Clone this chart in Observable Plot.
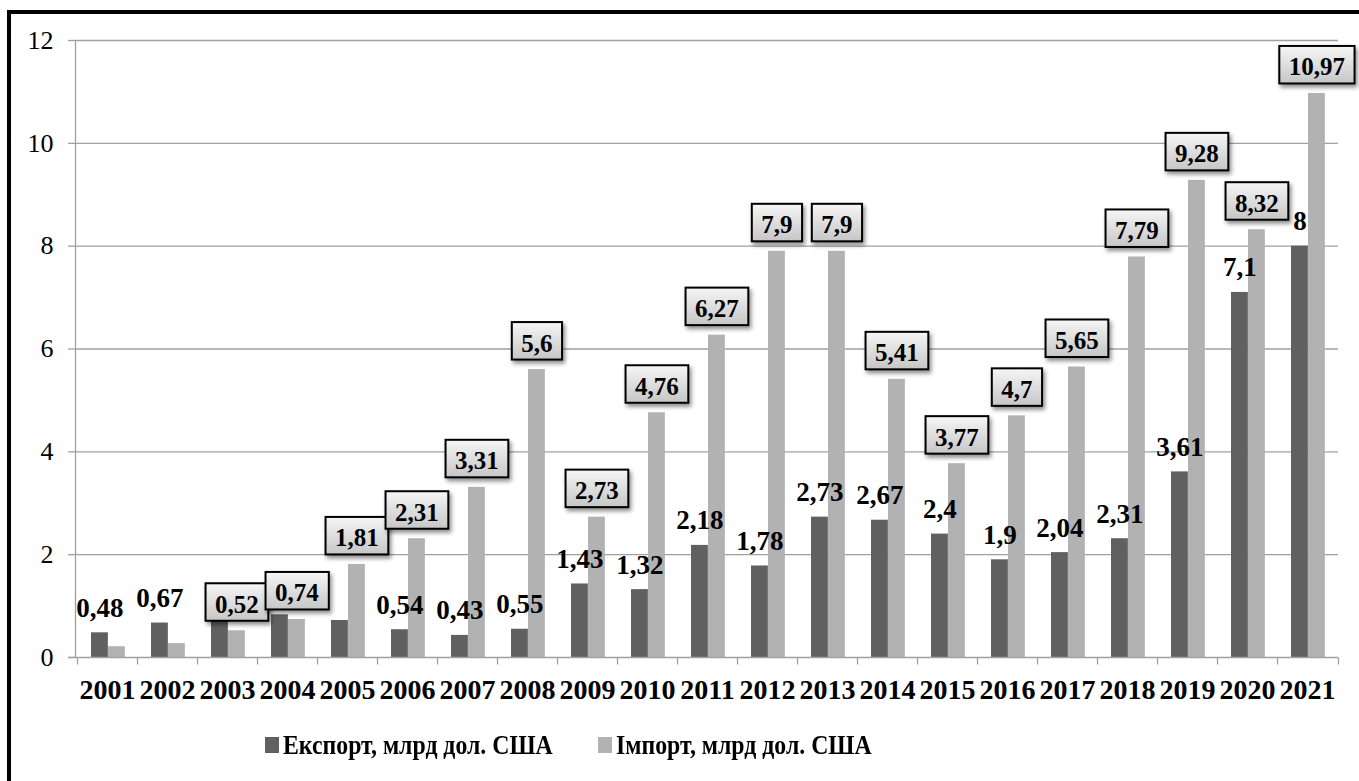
<!DOCTYPE html>
<html><head><meta charset="utf-8">
<script src="https://cdn.jsdelivr.net/npm/d3@7"></script>
<script src="https://cdn.jsdelivr.net/npm/@observablehq/plot@0.6"></script>
<style>
html,body{margin:0;padding:0;background:#fff;overflow:hidden;width:1359px;height:781px}
#frame{position:absolute;left:7px;top:10px;width:1400px;height:800px;border-left:4px solid #000;border-top:4px solid #000;box-sizing:border-box}
#chart{position:absolute;left:0;top:0}
#legend{position:absolute;left:0;top:729px;width:1359px;height:32px;font-family:"Liberation Serif","Times New Roman",serif;font-weight:bold;font-size:28px;line-height:32px;color:#000;white-space:nowrap}
.item{position:absolute;top:0;display:flex;align-items:center;height:32px}
.sw{display:inline-block;width:14px;height:16px;margin-right:4px}
.tx{display:inline-block;transform:scaleX(0.85);transform-origin:0 50%}
</style></head><body>
<div id="frame"></div>
<div id="chart"></div>
<div id="legend"></div>
<script>
// ---- data ----
const years = [2001,2002,2003,2004,2005,2006,2007,2008,2009,2010,2011,2012,2013,2014,2015,2016,2017,2018,2019,2020,2021];
const exportValues = [0.48,0.67,0.78,0.83,0.72,0.54,0.43,0.55,1.43,1.32,2.18,1.78,2.73,2.67,2.4,1.9,2.04,2.31,3.61,7.1,8];
const importValues = [0.21,0.27,0.52,0.74,1.81,2.31,3.31,5.6,2.73,4.76,6.27,7.9,7.9,5.41,3.77,4.7,5.65,7.79,9.28,8.32,10.97];
const exportLabels = ["0,48","0,67","","","","0,54","0,43","0,55","1,43","1,32","2,18","1,78","2,73","2,67","2,4","1,9","2,04","2,31","3,61","7,1","8"];
const importLabels = ["","","0,52","0,74","1,81","2,31","3,31","5,6","2,73","4,76","6,27","7,9","7,9","5,41","3,77","4,7","5,65","7,79","9,28","8,32","10,97"];
const yTicks = [0,2,4,6,8,10,12];
const seriesNames = ["Експорт, млрд дол. США","Імпорт, млрд дол. США"];
const seriesColors = ["#606060","#b2b2b2"];

// ---- layout / style ----
const W = 1359, H = 712, ML = 75, MR = 21, MT = 40, MB = 55;
const AXIS = "#a0a0a0";
const FONT = '"Liberation Serif","Times New Roman",serif';
const BW = (W - ML - MR) / years.length;
const BAR = 17, GAP_L = 14;
const legendLeft = [265, 598];

const rows = years.map((y, i) => ({
  year: String(y), exp: exportValues[i], imp: importValues[i],
  expLabel: exportLabels[i], impLabel: importLabels[i]
}));

function axesMark(index, scales, values, dims) {
  const x = scales.x, y = scales.y;
  const x0 = dims.marginLeft, x1 = dims.width - dims.marginRight;
  const y0 = Math.round(y(0)) + 0.5, yTop = y(d3.max(yTicks));
  const g = d3.create("svg:g").attr("fill", "none").attr("stroke", AXIS).attr("stroke-width", 1.3);
  let p = `M${x0 + 0.5},${yTop}V${y0}M${x0 - 7},${y0}H${x1}`;
  const bounds = x.domain().map(d => x(d)).concat([x1]);
  for (const bx of bounds) p += `M${Math.round(bx) + 0.5},${y0}V${y0 + 7}`;
  g.append("path").attr("d", p);
  return g.node();
}

const chart = Plot.plot({
  width: W, height: H,
  marginLeft: ML, marginRight: MR, marginTop: MT, marginBottom: MB,
  style: {fontFamily: FONT, color: "#000", background: "transparent", overflow: "visible"},
  x: {type: "band", domain: years.map(String), paddingInner: 0, paddingOuter: 0, align: 0.5, axis: null},
  y: {domain: [0, d3.max(yTicks)], axis: null},
  marks: [
    Plot.gridY(yTicks.filter(v => v > 0), {stroke: AXIS, strokeOpacity: 1, strokeWidth: 1.3}),
    Plot.barY(rows, {x: "year", y: "exp", fill: seriesColors[0], insetLeft: GAP_L, insetRight: BW - GAP_L - BAR}),
    Plot.barY(rows, {x: "year", y: "imp", fill: seriesColors[1], insetLeft: GAP_L + BAR, insetRight: BW - GAP_L - 2 * BAR}),
    axesMark,
    Plot.axisY(yTicks, {tickSize: 7, tickPadding: 15, stroke: AXIS, strokeWidth: 1.3, fontSize: 26, fontFamily: FONT, label: null, tickFormat: d => String(d)}),
    Plot.axisX({tickSize: 0, tickPadding: 22, fontSize: 28, fontWeight: "bold", fontFamily: FONT, label: null}),
    Plot.text(rows, {filter: d => d.expLabel, x: "year", y: "exp", text: "expLabel", lineAnchor: "bottom",
      dx: GAP_L + BAR / 2 - BW / 2, dy: -16, fontSize: 27, fontWeight: "bold", fontFamily: FONT, fill: "#000"}),
    Plot.text(rows, {filter: d => d.impLabel, x: "year", y: "imp", text: "impLabel", lineAnchor: "bottom",
      dx: GAP_L + 1.5 * BAR - BW / 2, dy: -18, fontSize: 25, fontWeight: "bold", fontFamily: FONT, fill: "#000",
      ariaDescription: "importlabels"})
  ]
});
document.getElementById("chart").appendChild(chart);

// boxes behind import labels
const ns = "http://www.w3.org/2000/svg";
const svg = chart.tagName.toLowerCase() === "svg" ? chart : chart.querySelector("svg");
const defs = document.createElementNS(ns, "defs");
defs.innerHTML = '<linearGradient id="boxGrad" x1="0" y1="0" x2="0" y2="1"><stop offset="0" stop-color="#f6f6f6"/><stop offset="1" stop-color="#c6c6c6"/></linearGradient>' +
  '<filter id="boxShadow" x="-30%" y="-30%" width="170%" height="190%"><feDropShadow dx="2" dy="3" stdDeviation="2" flood-color="#000" flood-opacity="0.45"/></filter>';
svg.insertBefore(defs, svg.firstChild);
let grp = svg.querySelector('g[aria-description="importlabels"]');
if (!grp) { const all = svg.querySelectorAll('g[aria-label="text"]'); grp = all[all.length - 1]; }
grp.querySelectorAll("text").forEach(t => {
  if (!t.textContent) return;
  const b = t.getBBox();
  const r = document.createElementNS(ns, "rect");
  r.setAttribute("x", b.x - 9.5);
  r.setAttribute("y", b.y - 7.5);
  r.setAttribute("width", b.width + 19);
  r.setAttribute("height", b.height + 10.5);
  if (t.getAttribute("transform")) r.setAttribute("transform", t.getAttribute("transform"));
  r.setAttribute("fill", "url(#boxGrad)");
  r.setAttribute("stroke", "#000");
  r.setAttribute("stroke-width", "2");
  r.setAttribute("filter", "url(#boxShadow)");
  t.parentNode.insertBefore(r, t);
});

// legend
const legend = document.getElementById("legend");
seriesNames.forEach((n, i) => {
  const it = document.createElement("span"); it.className = "item"; it.style.left = legendLeft[i] + "px";
  const sw = document.createElement("span"); sw.className = "sw"; sw.style.background = seriesColors[i];
  const tx = document.createElement("span"); tx.className = "tx"; tx.textContent = n;
  it.appendChild(sw); it.appendChild(tx); legend.appendChild(it);
});
</script>
</body></html>
